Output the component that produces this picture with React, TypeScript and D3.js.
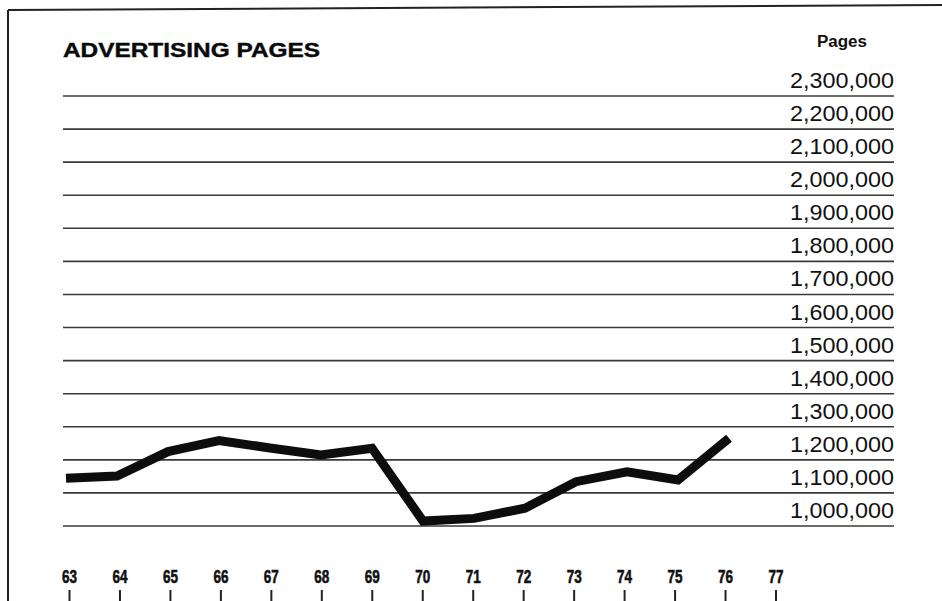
import React from "react";
import * as d3 from "d3";

const years: number[] = [1963, 1964, 1965, 1966, 1967, 1968, 1969, 1970, 1971, 1972, 1973, 1974, 1975, 1976];
const adPages: number[] = [1144000, 1151000, 1225000, 1258000, 1236000, 1215000, 1235000, 1015000, 1023000, 1054000, 1134000, 1164000, 1139000, 1265000];
const yearTicks: number[] = [1963, 1964, 1965, 1966, 1967, 1968, 1969, 1970, 1971, 1972, 1973, 1974, 1975, 1976, 1977];
const yearTickLabels: string[] = ["63", "64", "65", "66", "67", "68", "69", "70", "71", "72", "73", "74", "75", "76", "77"];
const valueTicks: number[] = d3.range(1000000, 2300001, 100000);
const title = "ADVERTISING PAGES";
const unitLabel = "Pages";

const W = 942;
const H = 601;

export default function App() {
  const y = d3.scaleLinear().domain([1000000, 2300000]).range([526, 96]);
  const xLabel = d3.scaleLinear().domain([1963, 1977]).range([69.5, 776]);
  const xLine = d3.scaleLinear().domain([1963, 1976]).range([66, 729]);
  const fmt = d3.format(",");
  const line = d3
    .line<number>()
    .x((_, i) => xLine(years[i]))
    .y((d) => y(d));
  const gridLeft = 63;
  const gridRight = 894;

  return (
    <svg
      width={W}
      height={H}
      viewBox={`0 0 ${W} ${H}`}
      style={{ position: "absolute", left: 0, top: 0, display: "block", background: "#fff" }}
    >
      <rect x={0} y={0} width={W} height={H} fill="#fff" />
      {/* frame */}
      <line x1={8} y1={10} x2={W} y2={5} stroke="#222" strokeWidth={2} />
      <line x1={8} y1={10} x2={8} y2={H} stroke="#222" strokeWidth={2} />

      <text
        x={63}
        y={57}
        fontFamily="'Liberation Sans', Arial, sans-serif"
        fontWeight="bold"
        fontSize={20}
        textLength={257}
        lengthAdjust="spacingAndGlyphs"
        fill="#0a0a0a"
        stroke="#0a0a0a"
        strokeWidth={0.4}
      >
        {title}
      </text>
      <text
        x={842}
        y={47}
        textAnchor="middle"
        fontFamily="'Liberation Sans', Arial, sans-serif"
        fontWeight="bold"
        fontSize={16}
        textLength={50}
        lengthAdjust="spacingAndGlyphs"
        fill="#111"
      >
        {unitLabel}
      </text>

      {valueTicks.map((v) => (
        <g key={v}>
          <line x1={gridLeft} x2={gridRight} y1={y(v)} y2={y(v)} stroke="#3a3a3a" strokeWidth={1.6} />
          <text
            x={gridRight}
            y={y(v) - 8}
            textAnchor="end"
            fontFamily="'Liberation Sans', Arial, sans-serif"
            fontSize={22}
            textLength={104}
            lengthAdjust="spacingAndGlyphs"
            fill="#111"
          >
            {fmt(v)}
          </text>
        </g>
      ))}

      <path
        d={line(adPages) || ""}
        fill="none"
        stroke="#0d0d0d"
        strokeWidth={9}
        strokeLinejoin="miter"
        strokeLinecap="butt"
      />

      {yearTicks.map((yr, i) => (
        <g key={yr}>
          <text
            x={xLabel(yr)}
            y={583}
            textAnchor="middle"
            fontFamily="'Liberation Sans Narrow', 'Liberation Sans', Arial, sans-serif"
            fontWeight="bold"
            fontSize={19}
            textLength={15}
            lengthAdjust="spacingAndGlyphs"
            fill="#111"
            stroke="#111"
            strokeWidth={0.6}
          >
            {yearTickLabels[i]}
          </text>
          <line x1={xLabel(yr)} x2={xLabel(yr)} y1={590} y2={H} stroke="#222" strokeWidth={2} />
        </g>
      ))}
    </svg>
  );
}
